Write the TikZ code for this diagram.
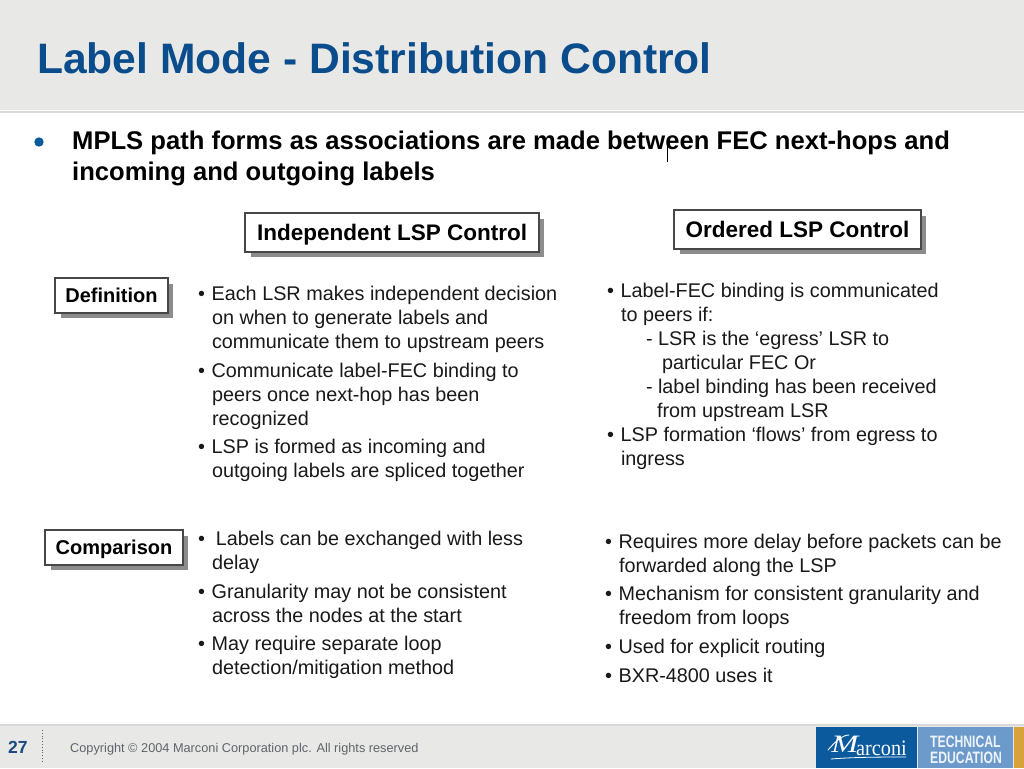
\documentclass[tikz,border=0pt]{standalone}
\usepackage{fontspec}
\setmainfont{Liberation Sans}
\newfontfamily\serifnm{Liberation Serif}
\definecolor{barc}{HTML}{E8E8E7}
\definecolor{linec}{HTML}{D9D9D9}
\definecolor{ttl}{HTML}{0A4C8C}
\definecolor{pgc}{HTML}{1A4A80}
\definecolor{mblue}{HTML}{0B5A9E}
\definecolor{lblue}{HTML}{6C9BCB}
\definecolor{orng}{HTML}{D9A13B}
\definecolor{cpy}{HTML}{5F6468}
\definecolor{shd}{HTML}{8C8C8C}
\newcommand{\fs}[1]{\fontsize{#1}{#1}\selectfont}
\newcommand{\bu}{•\hspace{1.2pt}\ }
\tikzset{
  x=1pt,y=-1pt,
  linetxt/.style={anchor=base west,inner sep=0pt,outer sep=0pt,font=\fs{19.8},text=black!90},
  headline/.style={anchor=base west,inner sep=0pt,font=\fs{25.6}\bfseries,text=black},
  labelbox/.style={draw=black!72,line width=1.3pt,fill=white,inner sep=0pt,text depth=0pt,text=black},
  boxshadow/.style={fill=shd,draw=none},
  techtxt/.style={anchor=base west,inner sep=0pt,font=\fs{16.5}\bfseries,text=white!88!lblue,xscale=.74}
}
\newcommand{\tl}[4]{\node[linetxt] (#1) at (#2,#3) {#4};}
\newcommand{\lbox}[7]{% name x0 y0 x1 y1 fontsize text
  \fill[boxshadow] (#2+6,#3+6) rectangle (#4+4.5,#5+4.5);
  \node[labelbox,text height=0.72*#6 pt,minimum width=#4pt-#2pt,minimum height=#5pt-#3pt,font=\fs{#6}\bfseries] (#1) at ({(#2+#4)/2},{(#3+#5)/2}) {#7};}
\begin{document}
\begin{tikzpicture}
\useasboundingbox (0,0) rectangle (1024,768);
\fill[white] (0,0) rectangle (1024,768);
% header
\fill[barc] (0,0) rectangle (1024,110);
\fill[linec] (0,111) rectangle (1024,113);
\node[anchor=base west,inner sep=0pt,font=\fs{42.6}\bfseries,text=ttl] (title) at (37,73) {Label Mode - Distribution Control};
% main point
\fill[mblue] (39,142) circle (4.7);
\node[headline] (h1) at (72,149) {MPLS path forms as associations are made between FEC next-hops and};
\node[headline] (h2) at (72,180) {incoming and outgoing labels};
\draw[black,line width=1pt] (667,140) -- (667,162);
% boxes
\lbox{indep}{245}{213}{539}{252}{22.5}{Independent LSP Control}
\lbox{order}{674}{210}{921}{249}{22.5}{Ordered LSP Control}
\lbox{defn}{55}{278}{168}{313}{20}{Definition}
\lbox{comp}{45}{530}{183}{565}{20}{Comparison}
% column 1
\tl{a1}{198}{300}{\bu Each LSR makes independent decision}
\tl{a2}{212}{324}{on when to generate labels and}
\tl{a3}{212}{348}{communicate them to upstream peers}
\tl{a4}{198}{377}{\bu Communicate label-FEC binding to}
\tl{a5}{212}{401}{peers once next-hop has been}
\tl{a6}{212}{425}{recognized}
\tl{a7}{198}{453}{\bu LSP is formed as incoming and}
\tl{a8}{212}{477}{outgoing labels are spliced together}
% column 2
\tl{b1}{607}{297}{\bu Label-FEC binding is communicated}
\tl{b2}{621}{321}{to peers if:}
\tl{b3}{646}{345}{- LSR is the ‘egress’ LSR to}
\tl{b4}{662}{369}{particular FEC Or}
\tl{b5}{646}{393}{- label binding has been received}
\tl{b6}{657}{417}{from upstream LSR}
\tl{b7}{607}{441}{\bu LSP formation ‘flows’ from egress to}
\tl{b8}{621}{465}{ingress}
% comparison col 1
\tl{c1}{198}{545}{•\ \ Labels can be exchanged with less}
\tl{c2}{212}{569}{delay}
\tl{c3}{198}{598}{\bu Granularity may not be consistent}
\tl{c4}{212}{622}{across the nodes at the start}
\tl{c5}{198}{650}{\bu May require separate loop}
\tl{c6}{212}{674}{detection/mitigation method}
% comparison col 2
\tl{d1}{605}{548}{\bu Requires more delay before packets can be}
\tl{d2}{619}{572}{forwarded along the LSP}
\tl{d3}{605}{600}{\bu Mechanism for consistent granularity and}
\tl{d4}{619}{624}{freedom from loops}
\tl{d5}{605}{653}{\bu Used for explicit routing}
\tl{d6}{605}{682}{\bu BXR-4800 uses it}
% footer
\fill[barc] (0,726) rectangle (1024,768);
\fill[linec] (0,724) rectangle (1024,726);
\node[anchor=base west,inner sep=0pt,font=\fs{17.5}\bfseries,text=pgc] (pg) at (8,753) {27};
\draw[black!60,line width=0.8pt,dotted] (42,730) -- (42,763);
\node[anchor=base west,inner sep=0pt,font=\fs{12.74},text=cpy] (copy) at (70,752) {Copyright © 2004 Marconi Corporation plc. All rights reserved};
% logo
\fill[mblue] (816,727) rectangle (917,768);
\fill[lblue] (918,727) rectangle (1013,768);
\fill[orng] (1014,727) rectangle (1024,768);
\draw[white,line width=.9pt,line cap=round] (828,750) .. controls (835,742) and (842,735) .. (849,735);
\draw[white,line width=.8pt,line cap=round] (831,759) .. controls (855,757) and (885,757) .. (906,757);
\node[anchor=base west,inner sep=0pt,font=\fs{25}\serifnm\itshape,text=white,xscale=1.3] (mk) at (831,752) {M};
\node[anchor=base west,inner sep=0pt,font=\fs{22}\serifnm,text=white,xscale=.92] (mk2) at (856,755) {arconi};
\node[techtxt] (t1) at (930,747) {TECHNICAL};
\node[techtxt] (t2) at (930,763) {EDUCATION};
\end{tikzpicture}
\end{document}
